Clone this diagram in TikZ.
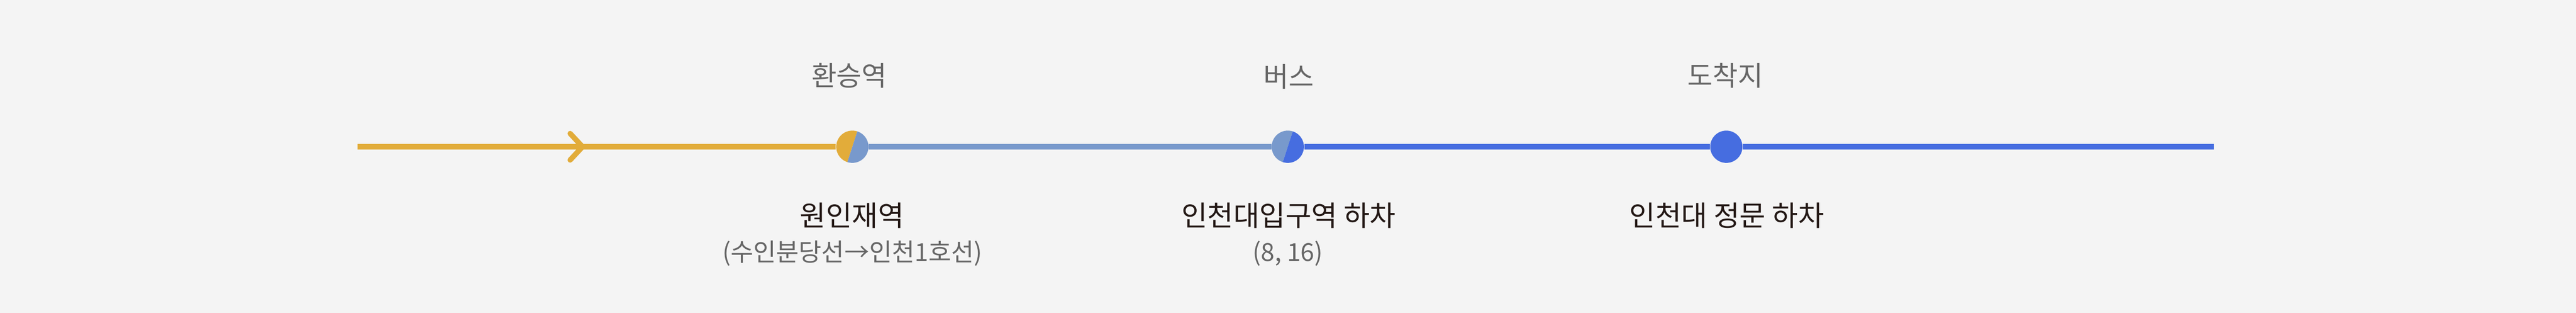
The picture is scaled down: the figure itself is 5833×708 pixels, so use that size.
\documentclass[tikz,border=0pt]{standalone}
\usepackage{fontspec}
\setmainfont{Noto Sans CJK KR}
\definecolor{bgc}{HTML}{F4F4F4}
\definecolor{ylw}{HTML}{E2AC3A}
\definecolor{lbl}{HTML}{7899CC}
\definecolor{blu}{HTML}{466DE0}
\definecolor{gry}{HTML}{666666}
\definecolor{ink}{HTML}{231815}
\begin{document}
\begin{tikzpicture}[x=0.25pt,y=0.25pt,
  station/.style={circle, inner sep=0pt, minimum size=18.25pt},
  seg/.style={line width=3pt},
  toplabel/.style={inner sep=0pt, text=gry, font=\fontsize{15.5pt}{18pt}\selectfont},
  titlelabel/.style={inner sep=0pt, text=ink, font=\fontsize{16pt}{20pt}\selectfont},
  sublabel/.style={inner sep=0pt, text=gry, font=\fontsize{14pt}{17pt}\selectfont},
  halves/.style 2 args={path picture={
    \fill[#1] (path picture bounding box.center) -- ++(72:40) arc[start angle=72,end angle=252,radius=40] -- cycle;
    \fill[#2] (path picture bounding box.center) -- ++(252:40) arc[start angle=252,end angle=432,radius=40] -- cycle;}}
]
\fill[bgc] (0,0) rectangle (5833,-708);
\useasboundingbox (0,0) rectangle (5833,-708);
\coordinate (start) at (810,-332);
\coordinate (finish) at (5013,-332);
\coordinate (chev) at (1319,-332);
\node[station, halves={ylw}{lbl}] (s1) at (1930,-332) {};
\node[station, halves={lbl}{blu}] (s2) at (2916,-332) {};
\node[station, fill=blu] (s3) at (3909,-332) {};
\draw[seg, ylw] (start) -- (s1);
\draw[seg, lbl] (s1) -- (s2);
\draw[seg, blu] (s2) -- (s3);
\draw[seg, blu] (s3) -- (finish);
\draw[seg, ylw, line cap=round, line join=miter] (chev) ++(-28,30) -- (chev) -- ++(-28,-30);
\node[toplabel] (t1) at (1923,-171) {환승역};
\node[toplabel] (t2) at (2918,-173) {버스};
\node[toplabel] (t3) at (3907,-171) {도착지};
\node[titlelabel] (n1) at (1929,-488) {원인재역};
\node[titlelabel] (n2) at (2918,-488) {인천대입구역 하차};
\node[titlelabel] (n3) at (3910,-488) {인천대 정문 하차};
\node[sublabel] (d1) at (1930,-573) {(수인분당선→인천1호선)};
\node[sublabel] (d2) at (2916,-574) {(8, 16)};
\end{tikzpicture}
\end{document}
